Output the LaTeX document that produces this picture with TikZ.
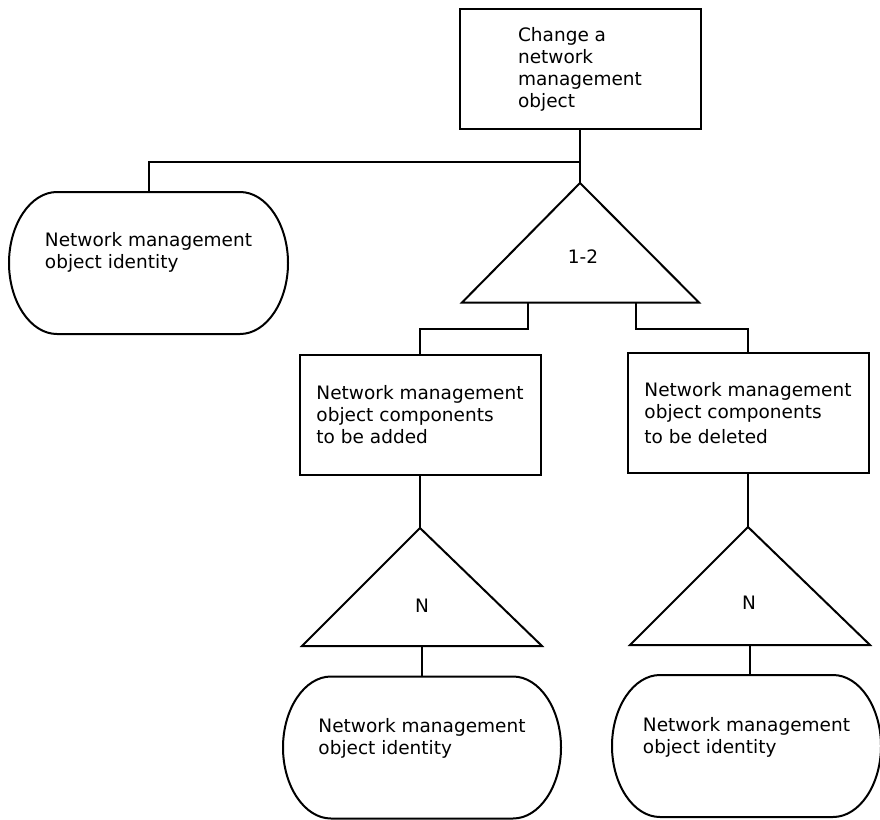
\documentclass[tikz,border=0pt]{standalone}
\usepackage{fontspec}
\setmainfont{DejaVu Sans}
\begin{document}
\begin{tikzpicture}[x=1pt,y=-1pt,line width=2pt,
	txt/.style={font=\fontsize{18.5}{22}\selectfont},
	box/.style={rectangle,draw,inner sep=0pt,align=left,txt,minimum width=241pt,minimum height=120pt},
	ident/.style={rectangle,inner sep=0pt,minimum width=#1,minimum height=140pt}]
		\useasboundingbox (0,0) rectangle (880,819);
		\path (580,69) node(chg)[box] {Change a\\network\\management\\object}
		(148.5,263) node(ident1)[ident=277pt] {}
		(420,414.5) node(addbox)[box] {Network management\\object components\\to be added}
		(748,413) node(delbox)[box] {Network management\\object components\\[3pt]to be deleted}
		(422,747.5) node(ident2)[ident=276pt] {}
		(746.5,746) node(ident3)[ident=267pt] {};
		% identity outlines, flat top and bottom with oval ends
		\foreach \n in {ident1,ident2,ident3}
			\draw ([xshift=48pt]\n.north west) -- ([xshift=-48pt]\n.north east)
				.. controls ([xshift=-21.5pt]\n.north east) and ([yshift=38.6pt]\n.east) .. (\n.east)
				.. controls ([yshift=-38.6pt]\n.east) and ([xshift=-21.5pt]\n.south east) .. ([xshift=-48pt]\n.south east)
				-- ([xshift=48pt]\n.south west)
				.. controls ([xshift=21.5pt]\n.south west) and ([yshift=-38.6pt]\n.west) .. (\n.west)
				.. controls ([yshift=38.6pt]\n.west) and ([xshift=21.5pt]\n.north west) .. ([xshift=48pt]\n.north west) -- cycle;
		% identity texts sit a little above the middle
		\path (ident1.center) ++(0,-11) node(ident1txt)[txt,align=left] {Network management\\object identity};
		\path (ident2.center) ++(0,-9) node(ident2txt)[txt,align=left] {Network management\\object identity};
		\path (ident3.center) ++(0,-9) node(ident3txt)[txt,align=left] {Network management\\object identity};
		% triangles
		\coordinate (sel) at (580,183);
		\coordinate (sell) at (462,302.5);
		\coordinate (selr) at (699,302.5);
		\draw (sel) -- (sell) -- (selr) -- cycle;
		\node(selnum)[txt] at (583,257) {1-2};
		\coordinate (adda) at (420,528);
		\coordinate (addal) at (302,646);
		\coordinate (addar) at (542,646);
		\draw (adda) -- (addal) -- (addar) -- cycle;
		\node(addnum)[txt] at (422,606) {N};
		\coordinate (dela) at (748,527);
		\coordinate (delal) at (630,645);
		\coordinate (delar) at (870,645);
		\draw (dela) -- (delal) -- (delar) -- cycle;
		\node(delnum)[txt] at (749,603) {N};
		% connectors
		\coordinate (fork) at (580,162);
		\coordinate (selb1) at (528,302.5);
		\coordinate (selb2) at (636,302.5);
		\coordinate (addin) at (420,329);
		\coordinate (delin) at (748,329);
		\coordinate (addab) at (422,646);
		\coordinate (delab) at (750,645);
		\draw (chg.south) -- (sel);
		\draw (fork) -| (ident1.north);
		\draw (selb1) |- (addin) -- (addbox.north);
		\draw (selb2) |- (delin) -- (delbox.north);
		\draw (addbox.south) -- (adda);
		\draw (delbox.south) -- (dela);
		\draw (addab) -- (ident2.north);
		\draw (delab) -- (delab |- ident3.north);
	\end{tikzpicture}
\end{document}
